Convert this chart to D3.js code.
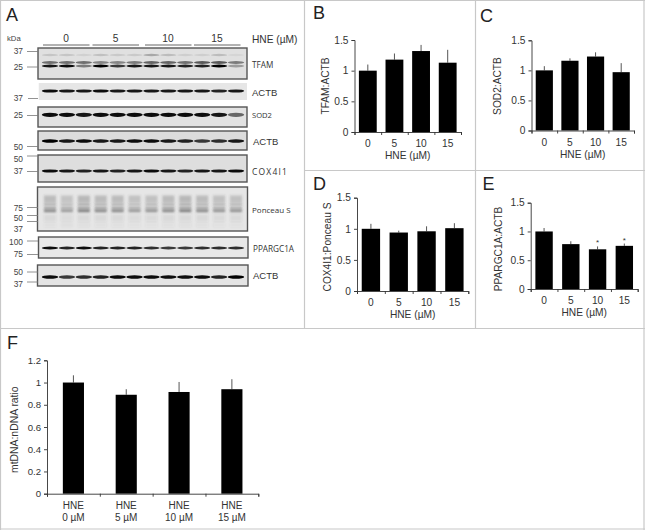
<!DOCTYPE html>
<html>
<head>
<meta charset="utf-8">
<script src="https://cdn.jsdelivr.net/npm/d3@7"></script>
<style>
  html, body { margin: 0; padding: 0; background: #fff; }
  svg { display: block; font-family: "Liberation Sans", Arial, sans-serif; }
</style>
</head>
<body>
<div id="vis"></div>
<script>
// values
var doses = ['0', '5', '10', '15'];
var doseLabels = ['0 µM', '5 µM', '10 µM', '15 µM'];

var tfamValues = [1.0, 1.18, 1.32, 1.13];
var tfamTops = [1.10, 1.28, 1.42, 1.34];
var sod2Values = [1.0, 1.16, 1.23, 0.97];
var sod2Tops = [1.07, 1.20, 1.30, 1.12];
var cox4Values = [1.0, 0.94, 0.96, 1.01];
var cox4Tops = [1.08, 0.97, 1.04, 1.09];
var pgcValues = [1.0, 0.78, 0.69, 0.75];
var pgcTops = [1.06, 0.83, 0.74, 0.79];
var mtdnaValues = [1.0, 0.89, 0.915, 0.94];
var mtdnaTops = [1.065, 0.94, 1.005, 1.03];

var ratioTicks = [0, 0.5, 1, 1.5];
var mtdnaTicks = [0, 0.2, 0.4, 0.6, 0.8, 1, 1.2];

// blot band darkness per lane (12 lanes, 3 for each dose)
var tfamLower = [.9, .95, .45, 1, .75, .9, .9, .9, .85, .85, 1, .3];
var tfamUpper = [.5, .5, .5, .4, .4, .45, .55, .55, .5, .6, .6, .45];
var tfamFaint = [.12, .12, .07, .14, .1, .1, .25, .16, .08, .08, .16, .05];
var actb1Band = [.95, .9, .9, .95, .9, .9, .9, .9, .9, .9, .85, .9];
var sod2Band = [.95, .95, .9, .95, .95, .95, .95, .95, .95, .95, .9, .55];
var actb2Band = [1, .9, .95, .9, .9, .95, .95, .9, .85, .75, .8, .9];
var coxBand = [.95, .9, .85, .9, .85, .9, .95, .9, .85, .9, .9, .95];
var ponceauBand = [.5, .4, .55, .5, .5, .42, .45, .5, .55, .5, .45, .45];
var pgcBand = [.95, .85, .95, .85, .85, .85, .8, .75, .75, .8, .8, .8];
var actb3Band = [.95, .75, .8, .85, .95, .95, .95, .95, .95, .95, .85, 1];

var markerLabels = [
  ['37', 51], ['25', 67], ['37', 98.5], ['25', 115], ['50', 147], ['50', 159],
  ['37', 171.5], ['75', 208], ['50', 218], ['37', 229], ['100', 242], ['75', 254.5],
  ['50', 272], ['37', 284]
];

var svg = d3.select('#vis').append('svg').attr('width', 645).attr('height', 530);

var defs = svg.append('defs');
defs.append('filter').attr('id', 'bandBlur')
  .attr('x', '-30%').attr('y', '-100%').attr('width', '160%').attr('height', '300%')
  .append('feGaussianBlur').attr('stdDeviation', 0.7);
defs.append('filter').attr('id', 'softBlur')
  .attr('x', '-30%').attr('y', '-100%').attr('width', '160%').attr('height', '300%')
  .append('feGaussianBlur').attr('stdDeviation', 1.1);

// panel dividers
var dividerColor = '#c8c8c8';
[[0, 0.5, 645, 0.5], [304.5, 0, 304.5, 328], [475.5, 0, 475.5, 328], [304, 170.5, 645, 170.5],
 [0, 328.5, 645, 328.5], [0.5, 0, 0.5, 530], [0, 529, 645, 529], [644, 0, 644, 530]].forEach(function(l) {
  svg.append('line')
    .attr('x1', l[0]).attr('y1', l[1]).attr('x2', l[2]).attr('y2', l[3])
    .attr('stroke', dividerColor).attr('stroke-width', 1.2);
});

// panel letters
[['A', 6, 20.5], ['B', 313, 19], ['C', 480, 21.5], ['D', 313, 190], ['E', 482.5, 190], ['F', 7, 349]].forEach(function(p) {
  svg.append('text').attr('x', p[1]).attr('y', p[2])
    .attr('font-size', 18).attr('fill', '#222').text(p[0]);
});

// blots
var lanes = d3.scalePoint().domain(d3.range(12)).range([50, 236]);

var blots = [
  { id: 'tfam', x: 38, y: 48, w: 209, h: 31, bg: '#e0e0e0', border: true,
    layers: [{ y: 55, h: 2.4, v: tfamFaint }, { y: 62.5, h: 2.8, v: tfamUpper }, { y: 66, h: 2.8, v: tfamLower }] },
  { id: 'actb1', x: 38.5, y: 83, w: 208.5, h: 17, bg: '#e6e6e6', border: false,
    layers: [{ y: 91, h: 3.2, v: actb1Band }] },
  { id: 'sod2', x: 38, y: 107, w: 209, h: 20, bg: '#e2e2e2', border: true,
    layers: [{ y: 114.8, h: 4.2, v: sod2Band }] },
  { id: 'actb2', x: 38, y: 131, w: 209, h: 19, bg: '#dcdcdc', border: true,
    layers: [{ y: 141, h: 3.6, v: actb2Band }] },
  { id: 'cox', x: 38, y: 155, w: 209, h: 27, bg: '#dedede', border: true,
    layers: [{ y: 171, h: 3.2, v: coxBand }] },
  { id: 'ponceau', x: 37.5, y: 187, w: 210, h: 44, bg: '#e6e6e6', border: true, soft: true,
    layers: [{ y: 199, h: 7, v: ponceauBand.map(function(d) { return d * 0.55; }) }, { y: 204.5, h: 3, v: ponceauBand.map(function(d) { return d * 0.6; }) },
      { y: 208, h: 2, v: ponceauBand.map(function(d) { return d * 0.9; }) }, { y: 210.8, h: 2.6, v: ponceauBand.map(function(d) { return d * 1.3; }) },
      { y: 218, h: 7, v: ponceauBand.map(function(d) { return d * 0.16; }) }, { y: 225, h: 5, v: ponceauBand.map(function(d) { return d * 0.08; }) }] },
  { id: 'pgc', x: 38.5, y: 237, w: 209.5, h: 21, bg: '#e8e8e8', border: true,
    layers: [{ y: 248, h: 3, v: pgcBand }] },
  { id: 'actb3', x: 37.5, y: 265, w: 210.5, h: 21, bg: '#e4e4e4', border: true,
    layers: [{ y: 277, h: 3.6, v: actb3Band }] }
];

blots.forEach(function(b) {
  defs.append('clipPath').attr('id', 'clip-' + b.id)
    .append('rect').attr('x', b.x).attr('y', b.y).attr('width', b.w).attr('height', b.h);
  var g = svg.append('g').attr('clip-path', 'url(#clip-' + b.id + ')');
  g.append('rect').attr('x', b.x).attr('y', b.y).attr('width', b.w).attr('height', b.h).attr('fill', b.bg);
  b.layers.forEach(function(layer) {
    if (b.soft) {
      g.selectAll(null).data(layer.v).enter().append('rect')
        .attr('x', function(d, i) { return lanes(i) - 6; })
        .attr('y', layer.y - layer.h / 2)
        .attr('width', 12)
        .attr('height', layer.h)
        .attr('fill', '#4c4c4c')
        .attr('fill-opacity', function(d) { return d; })
        .attr('filter', 'url(#softBlur)');
    } else {
      g.selectAll(null).data(layer.v).enter().append('ellipse')
        .attr('cx', function(d, i) { return lanes(i); })
        .attr('cy', layer.y)
        .attr('rx', 8.2)
        .attr('ry', layer.h / 2)
        .attr('fill', '#000')
        .attr('fill-opacity', function(d) { return d; })
        .attr('filter', 'url(#bandBlur)');
    }
  });
  if (b.border) {
    svg.append('rect').attr('x', b.x).attr('y', b.y).attr('width', b.w).attr('height', b.h)
      .attr('fill', 'none').attr('stroke', '#555').attr('stroke-width', 1.4);
  }
});

// blot side labels
[['TFAM', 252, 65, 8.2, 0], ['ACTB', 252, 92.5, 9.5, 0], ['SOD2', 252, 115.5, 7.6, 0], ['ACTB', 253, 141.5, 9.5, 0],
 ['COX4I1', 252, 172, 8.5, 1.2], ['Ponceau S', 252, 210, 8, 0], ['PPARGC1A', 253, 249, 8.2, 0], ['ACTB', 253, 275.5, 9.5, 0]].forEach(function(t) {
  svg.append('text').attr('x', t[1]).attr('y', t[2]).attr('font-size', t[3])
    .attr('dy', '0.35em').attr('fill', '#333')
    .attr('letter-spacing', t[4])
    .attr('font-family', (t[0] === 'ACTB') ? '"Liberation Sans"' : '"Open Sans"')
    .text(t[0]);
});

// molecular weight markers
svg.append('text').attr('x', 7).attr('y', 38).attr('dy', '0.35em').attr('font-size', 7.7).attr('fill', '#444').text('kDa');
svg.selectAll('.marker').data(markerLabels).enter().append('text')
  .attr('class', 'marker')
  .attr('x', 23)
  .attr('y', function(d) { return d[1]; })
  .attr('dy', '0.35em')
  .attr('text-anchor', 'end')
  .attr('font-size', 8.4)
  .attr('fill', '#444')
  .text(function(d) { return d[0]; });

[[51.5, 27], [67, 27], [98.5, 28], [115.5, 27], [146.5, 27], [156, 27], [171.5, 27], [207.5, 27], [215.5, 27],
 [221.5, 27], [241, 27], [254.5, 27], [272, 27], [282, 27]].forEach(function(m) {
  svg.append('line').attr('x1', m[1]).attr('x2', 38).attr('y1', m[0]).attr('y2', m[0])
    .attr('stroke', '#777').attr('stroke-width', 0.8);
});

// dose header
var groupStarts = [43, 92.5, 145, 194];
doses.forEach(function(d, i) {
  svg.append('line').attr('x1', groupStarts[i]).attr('x2', groupStarts[i] + 46.5)
    .attr('y1', 45).attr('y2', 45).attr('stroke', '#666').attr('stroke-width', 1);
  svg.append('text').attr('x', groupStarts[i] + 23).attr('y', 38.5).attr('dy', '0.35em')
    .attr('text-anchor', 'middle').attr('font-size', 10.2).attr('fill', '#333').text(d);
});
svg.append('text').attr('x', 252).attr('y', 39.5).attr('dy', '0.35em')
  .attr('font-size', 10.2).attr('fill', '#333').text('HNE (µM)');

// bar charts
function barPanel(opts) {
  var g = svg.append('g');
  var x = d3.scaleBand().domain(opts.categories).range([opts.x0, opts.x1]).paddingInner(opts.gap).paddingOuter(opts.gap / 2);
  var xEdge = d3.scaleLinear().domain([0, opts.categories.length]).range([opts.x0, opts.x1]);
  var y = d3.scaleLinear().domain([0, opts.yMax]).range([opts.y0, opts.y1]);

  // error whiskers, drawn first so the bars sit on them
  g.selectAll(null).data(opts.tops).enter().append('line')
    .attr('x1', function(d, i) { return x(opts.categories[i]) + x.bandwidth() / 2; })
    .attr('x2', function(d, i) { return x(opts.categories[i]) + x.bandwidth() / 2; })
    .attr('y1', function(d, i) { return y(opts.values[i]); })
    .attr('y2', function(d) { return y(d); })
    .attr('stroke', '#555').attr('stroke-width', 1);

  g.selectAll(null).data(opts.values).enter().append('rect')
    .attr('x', function(d, i) { return x(opts.categories[i]); })
    .attr('y', function(d) { return y(d); })
    .attr('width', x.bandwidth())
    .attr('height', function(d) { return y(0) - y(d); })
    .attr('fill', '#000');

  var yAxis = g.append('g').attr('transform', 'translate(' + opts.x0 + ',0)')
    .call(d3.axisLeft(y).tickValues(opts.yTicks).tickSize(3).tickFormat(function(d) { return String(d); }));
  var edgeAxis = g.append('g').attr('transform', 'translate(0,' + opts.y0 + ')')
    .call(d3.axisBottom(xEdge).tickValues(d3.range(opts.categories.length + 1)).tickSize(3).tickFormat(''));
  [yAxis, edgeAxis].forEach(function(a) {
    a.selectAll('path').attr('stroke', '#333').attr('stroke-width', 0.9);
    a.selectAll('line').attr('stroke', '#333').attr('stroke-width', 0.9);
  });
  yAxis.selectAll('text').attr('font-size', opts.twoLine ? 9.6 : 10.2).attr('fill', '#333')
    .attr('font-family', '"Liberation Sans"');

  if (opts.twoLine) {
    opts.categories.forEach(function(c) {
      var cx = x(c) + x.bandwidth() / 2;
      g.append('text').attr('x', cx).attr('y', opts.y0 + 15).attr('text-anchor', 'middle')
        .attr('font-size', 10).attr('fill', '#333').text('HNE');
      g.append('text').attr('x', cx).attr('y', opts.y0 + 27).attr('text-anchor', 'middle')
        .attr('font-size', 10).attr('fill', '#333').text(c);
    });
  } else {
    var xAxis = g.append('g').attr('transform', 'translate(0,' + opts.y0 + ')')
      .call(d3.axisBottom(x).tickSize(0).tickPadding(8));
    xAxis.select('path').remove();
    xAxis.selectAll('text').attr('font-size', 10.2).attr('fill', '#333')
      .attr('font-family', '"Liberation Sans"');
    g.append('text').attr('x', (opts.x0 + opts.x1) / 2).attr('y', opts.y0 + 27)
      .attr('text-anchor', 'middle').attr('font-size', 10.2).attr('fill', '#333').text('HNE (µM)');
  }

  g.append('text')
    .attr('transform', 'translate(' + opts.labelX + ',' + (opts.labelY) + ') rotate(-90)')
    .attr('text-anchor', 'middle').attr('font-size', opts.twoLine ? 10.4 : 10.2).attr('fill', '#333').text(opts.yLabel);

  (opts.stars || []).forEach(function(c) {
    g.append('text').attr('x', x(c) + x.bandwidth() / 2)
      .attr('y', y(opts.tops[opts.categories.indexOf(c)]) - 1)
      .attr('text-anchor', 'middle').attr('font-size', 8).attr('fill', '#333').text('*');
  });
}

barPanel({ categories: doses, values: tfamValues, tops: tfamTops, yTicks: ratioTicks, yMax: 1.5, yLabel: 'TFAM:ACTB',
  x0: 354.5, x1: 461, y0: 132, y1: 40, gap: 0.33, labelX: 329, labelY: 86 });
barPanel({ categories: doses, values: sod2Values, tops: sod2Tops, yTicks: ratioTicks, yMax: 1.5, yLabel: 'SOD2:ACTB',
  x0: 531.5, x1: 634, y0: 130.5, y1: 40.3, gap: 0.33, labelX: 501, labelY: 86 });
barPanel({ categories: doses, values: cox4Values, tops: cox4Tops, yTicks: ratioTicks, yMax: 1.5, yLabel: 'COX4I1:Ponceau S',
  x0: 357, x1: 468.3, y0: 291, y1: 197.7, gap: 0.34, labelX: 330.5, labelY: 247 });
barPanel({ categories: doses, values: pgcValues, tops: pgcTops, yTicks: ratioTicks, yMax: 1.5, yLabel: 'PPARGC1A:ACTB',
  x0: 530.7, x1: 637.7, y0: 289, y1: 202.7, gap: 0.35, labelX: 502, labelY: 249, stars: ['10', '15'] });
barPanel({ categories: doseLabels, values: mtdnaValues, tops: mtdnaTops, yTicks: mtdnaTicks, yMax: 1.2, yLabel: 'mtDNA:nDNA ratio',
  x0: 47, x1: 258.3, y0: 493.7, y1: 360.3, gap: 0.6, labelX: 17.5, labelY: 429.7, twoLine: true });
</script>
</body>
</html>
